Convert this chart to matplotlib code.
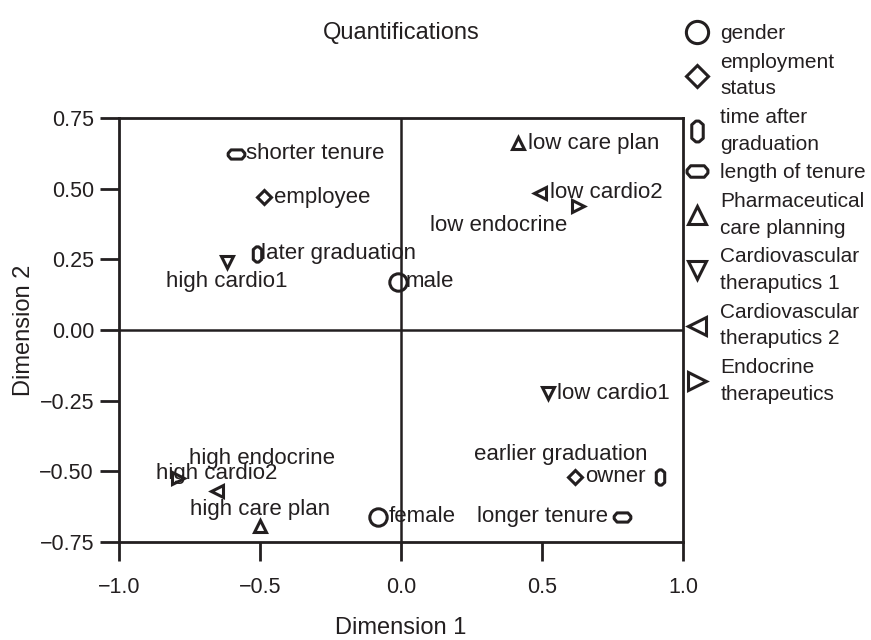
import numpy as np
import matplotlib
matplotlib.use("Agg")
import matplotlib.pyplot as plt
from matplotlib.lines import Line2D
from matplotlib.path import Path

plt.rcParams['font.family'] = ['Liberation Sans', 'DejaVu Sans']

# category quantifications (dimension 1, dimension 2)
labels = ["shorter tenure", "employee", "later graduation", "high cardio1", "male",
          "low care plan", "low cardio2", "low endocrine",
          "high endocrine", "high cardio2", "high care plan", "female",
          "low cardio1", "owner", "earlier graduation", "longer tenure"]
dim1 = [-0.585, -0.486, -0.51, -0.617, -0.01,
        0.415, 0.493, 0.628,
        -0.79, -0.652, -0.50, -0.08,
        0.52, 0.617, 0.918, 0.784]
dim2 = [0.623, 0.47, 0.27, 0.24, 0.17,
        0.66, 0.485, 0.44,
        -0.523, -0.57, -0.693, -0.66,
        -0.223, -0.52, -0.52, -0.66]
variable = ["tenure", "employment", "graduation", "cardio1", "gender",
            "care", "cardio2", "endocrine",
            "endocrine", "cardio2", "care", "gender",
            "cardio1", "employment", "graduation", "tenure"]

var_names = ["gender", "employment", "graduation", "tenure", "care",
             "cardio1", "cardio2", "endocrine"]
legend_labels = ["gender", "employment\nstatus", "time after\ngraduation",
                 "length of tenure", "Pharmaceutical\ncare planning",
                 "Cardiovascular\ntheraputics 1", "Cardiovascular\ntheraputics 2",
                 "Endocrine\ntherapeutics"]

# flattened octagons for the two time variables
wide = Path([(-1, 0.15), (-0.65, 0.55), (0.65, 0.55), (1, 0.15), (1, -0.15),
             (0.65, -0.55), (-0.65, -0.55), (-1, -0.15), (-1, 0.15)], closed=True)
tall = Path([(0.15, -1), (0.55, -0.65), (0.55, 0.65), (0.15, 1), (-0.15, 1),
             (-0.55, 0.65), (-0.55, -0.65), (-0.15, -1), (0.15, -1)], closed=True)

markers = {"gender": ("o", 12.5), "employment": ("D", 7.5), "graduation": (tall, 11),
           "tenure": (wide, 12), "care": ("^", 9), "cardio1": ("v", 9),
           "cardio2": ("<", 9), "endocrine": (">", 9)}
legend_sizes = {"gender": 16, "employment": 11, "graduation": 15, "tenure": 15,
                "care": 13, "cardio1": 13, "cardio2": 13, "endocrine": 13}

# label offsets (points) and alignment
offsets = {"high cardio1": (0, -14, "center"), "low endocrine": (-8, -14, "right"),
           "high endocrine": (8, 14, "left"), "high cardio2": (0, 13, "center"),
           "high care plan": (0, 12, "center"), "earlier graduation": (-9, 16, "right"),
           "longer tenure": (-10, 0, "right"), "later graduation": (3, 0, "left"),
           "male": (5, 0, "left")}

fig = plt.figure(figsize=(8.71, 6.4), dpi=100)
ax = fig.add_axes([119 / 871, 1 - 542 / 640, 564 / 871, 424 / 640])

ax.axhline(0, color='#231f20', lw=1.8, zorder=1)
ax.axvline(0, color='#231f20', lw=1.8, zorder=1)

for lab, x, y, v in zip(labels, dim1, dim2, variable):
    m, ms = markers[v]
    ax.plot(x, y, marker=m, markersize=ms, markerfacecolor='none',
            markeredgecolor='#231f20', markeredgewidth=2.2, linestyle='none', zorder=3)
    dx, dy, ha = offsets.get(lab, (7, 0, "left"))
    ax.annotate(lab, (x, y), xytext=(dx, dy), textcoords='offset points',
                ha=ha, va='center', fontsize=16, color='#231f20')

ax.set_xlim(-1, 1)
ax.set_ylim(-0.75, 0.75)
ax.set_xticks([-1.0, -0.5, 0.0, 0.5, 1.0])
ax.set_xticklabels(["\u22121.0", "\u22120.5", "0.0", "0.5", "1.0"])
ax.set_yticks([-0.75, -0.5, -0.25, 0.0, 0.25, 0.5, 0.75])
ax.set_yticklabels(["\u22120.75", "\u22120.50", "\u22120.25", "0.00", "0.25", "0.50", "0.75"])
ax.tick_params(axis='both', length=14, width=2, color='#231f20',
               labelsize=15.5, labelcolor='#231f20')
ax.tick_params(axis='x', pad=11)
ax.tick_params(axis='y', pad=4)
for sp in ax.spines.values():
    sp.set_linewidth(2)
    sp.set_color('#231f20')

ax.set_xlabel("Dimension 1", fontsize=17, color='#231f20', labelpad=14)
ax.set_ylabel("Dimension 2", fontsize=17, color='#231f20', labelpad=3)
ax.set_title("Quantifications", fontsize=17, color='#231f20', pad=57)

handles = []
for v in var_names:
    m, _ = markers[v]
    handles.append(Line2D([], [], marker=m, markersize=legend_sizes[v], linestyle='none',
                          markerfacecolor='none', markeredgecolor='#231f20',
                          markeredgewidth=2.2))
leg = fig.legend(handles, legend_labels, loc='upper left',
                 bbox_to_anchor=(684 / 871, 1 - 24 / 640),
                 frameon=False, fontsize=15, handlelength=1.25, handletextpad=0.5,
                 labelspacing=0.47, borderpad=0, borderaxespad=0, labelcolor='#231f20')
for t in leg.get_texts():
    t.set_linespacing(1.5)

fig.savefig("out.png", dpi=100)
